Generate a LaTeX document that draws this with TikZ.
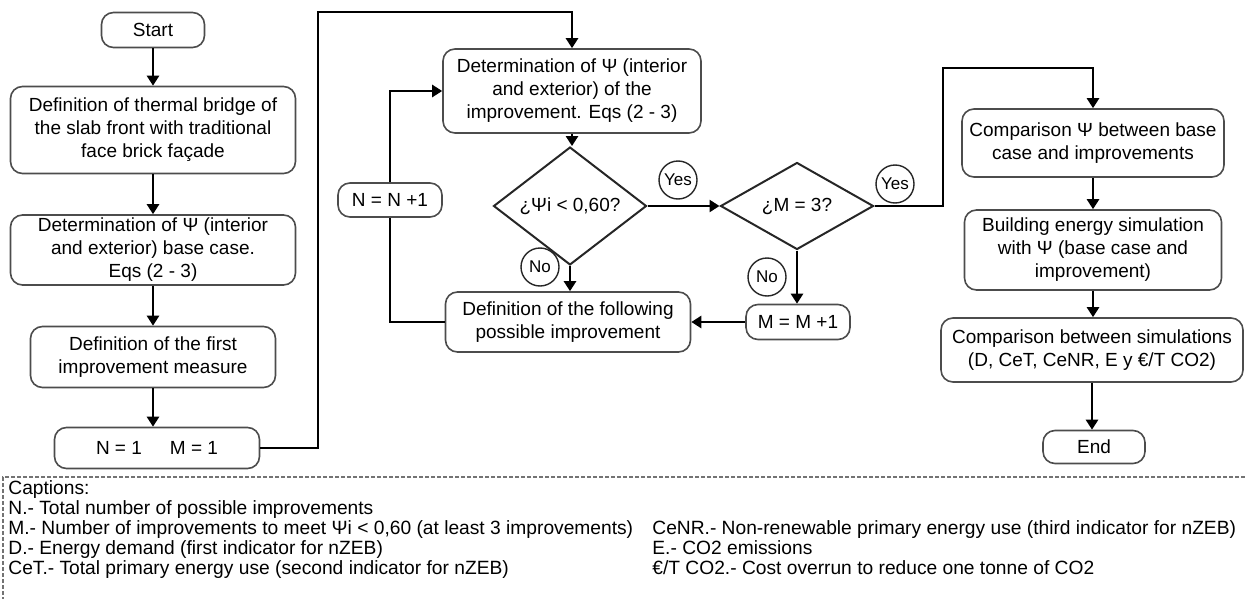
\documentclass[tikz,border=0pt]{standalone}
\usepackage{fontspec}
\setmainfont{Liberation Sans}
\usetikzlibrary{arrows.meta,shapes.geometric}
\tikzset{
  box/.style={draw=black!70, line width=0.8pt, rounded corners=6pt, align=center,
    inner sep=1pt, font=\fontsize{9.5}{11.5}\selectfont},
  test/.style={diamond, draw=black!85, line width=1pt, inner sep=0pt,
    minimum width=76.5pt, minimum height=43.5pt, font=\fontsize{9.5}{11.5}\selectfont},
  answer/.style={circle, draw=black!85, line width=0.7pt, inner sep=0.5pt,
    minimum size=19pt, font=\fontsize{8.5}{10}\selectfont},
  legend/.style={anchor=base west, inner sep=0pt, font=\fontsize{9.6}{10}\selectfont},
  flow/.style={line width=1.3pt, -{Triangle[length=5pt,width=6pt]}},
}
\begin{document}
\begin{tikzpicture}[x=0.5pt,y=-0.5pt]
      \useasboundingbox (0,0) rectangle (1245,599);
      \draw
        (153,30) node[box, minimum width=51.5pt, minimum height=17.5pt] (start){Start}
        (153,130) node[box, minimum width=142.5pt, minimum height=43.5pt] (bridge){Definition of thermal bridge of\\the slab front with traditional\\face brick façade}
        (153,250) node[box, minimum width=142.5pt, minimum height=35pt] (base){Determination of Ψ (interior\\and exterior) base case.\\Eqs (2 - 3)}
        (153,357) node[box, minimum width=122.5pt, minimum height=30.5pt] (first){Definition of the first\\improvement measure}
        (157,448) node[box, minimum width=102.5pt, minimum height=20.5pt] (nm){N = 1\hspace{14pt}M = 1}
        (572,91) node[box, minimum width=129pt, minimum height=42pt] (psi){Determination of Ψ (interior\\and exterior) of the\\improvement. Eqs (2 - 3)}
        (570,206) node[test] (d1){¿Ψi < 0,60?}
        (568,322) node[box, minimum width=122.5pt, minimum height=30pt] (next){Definition of the following\\possible improvement}
        (390,200) node[box, minimum width=52pt, minimum height=17pt] (nn){N = N +1}
        (797,206) node[test] (d2){¿M = 3?}
        (798,322) node[box, minimum width=52pt, minimum height=17.5pt] (mm){M = M +1}
        (1093,143) node[box, minimum width=131pt, minimum height=34pt] (cmp){Comparison Ψ between base\\case and improvements}
        (1093,250) node[box, minimum width=128.5pt, minimum height=40pt] (sim){Building energy simulation\\with Ψ (base case and\\improvement)}
        (1092,350) node[box, minimum width=151pt, minimum height=32pt] (sims){Comparison between simulations\\(D, CeT, CeNR, E y €/T CO2)}
        (1094,447) node[box, minimum width=51pt, minimum height=16.5pt] (end){End};
      \draw
        (678,180) node[answer] (yes1){Yes}
        (895,184) node[answer] (yes2){Yes}
        (540,267) node[answer] (no1){No}
        (767,277) node[answer] (no2){No};
      \coordinate (c1) at (318,12);
      \coordinate (c2) at (943,68);
      \begin{scope}[flow]
        \draw (start) to (bridge);
        \draw (bridge) to (base);
        \draw (base) to (first);
        \draw (first) to (first |- nm.north);
        \draw (nm) -| (c1) -| (psi);
        \draw (psi) to (psi |- d1.north);
        \draw (d1) to (d2);
        \draw (d1) to (d1 |- next.north);
        \draw (d2) to (d2 |- mm.north);
        \draw (mm) to (next);
        \draw[-] (next) -| (nn);
        \draw (nn) |- (psi.west);
        \draw (d2) -| (c2) -| (cmp);
        \draw (cmp) to (cmp |- sim.north);
        \draw (sim) to (sim |- sims.north);
        \draw (sims) to (sims |- end.north);
      \end{scope}
      \draw[black!55, line width=0.6pt, dash pattern=on 2pt off 1pt] (1245,477) -- (3,477) -- (3,599);
      \path
        (8,494) node[legend] (cap){Captions:}
        (8,514) node[legend] (capN){N.- Total number of possible improvements}
        (8,534) node[legend] (capM){M.- Number of improvements to meet Ψi < 0,60 (at least 3 improvements)}
        (8,554) node[legend] (capD){D.- Energy demand (first indicator for nZEB)}
        (8,574) node[legend] (capCeT){CeT.- Total primary energy use (second indicator for nZEB)}
        (652,534) node[legend] (capCeNR){CeNR.- Non-renewable primary energy use (third indicator for nZEB)}
        (652,554) node[legend] (capE){E.- CO2 emissions}
        (652,574) node[legend] (capT){€/T CO2.- Cost overrun to reduce one tonne of CO2};
    \end{tikzpicture}
\end{document}
